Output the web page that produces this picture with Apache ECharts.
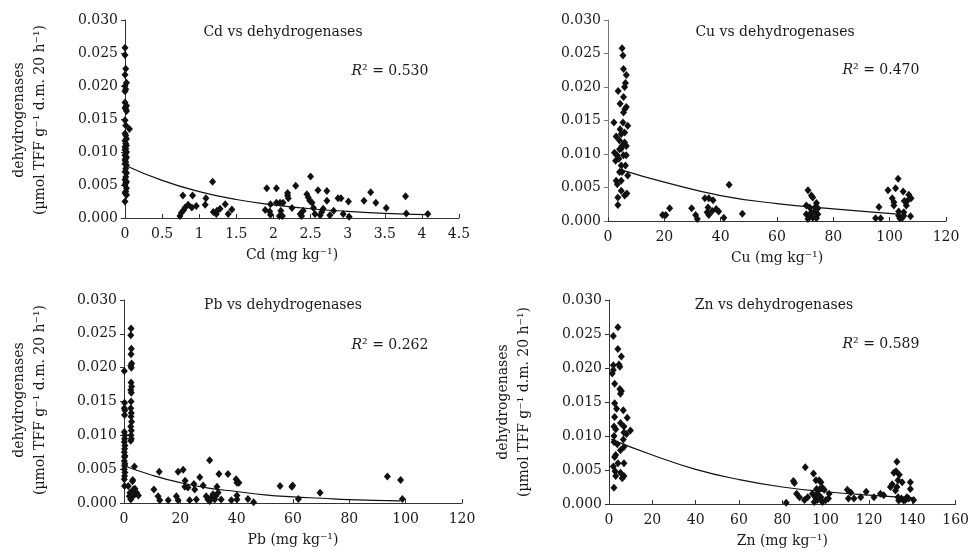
<!DOCTYPE html>
<html>
<head>
<meta charset="utf-8">
<script src="https://cdn.jsdelivr.net/npm/echarts@6/dist/echarts.min.js"></script>
<style>
html,body{margin:0;padding:0;background:#fff;}
#main{width:972px;height:553px;}
</style>
</head>
<body>
<div id="main"></div>
<script>
// ---------- Data ----------
// Cd vs dehydrogenases
const cdX = [0,0,0.01,0,0.02,0,0.01,0,0,0.02,0,0.01,0.02,0,0.01,0.06,0,0.01,0.02,0,0.01,0.02,0,0.01,0,0.02,0.01,0,0.02,0.01,0,0.01,0,0.02,0.01,0,0.02,0.01,0,0.02,0.01,0,0.02,0.01,0,0.02,0,
  0.78,0.74,0.76,0.79,0.81,0.85,0.90,0.91,0.96,1.09,1.08,1.18,1.19,1.23,1.28,1.35,1.39,1.44,1.24,
  1.91,2.04,1.89,1.95,1.96,1.96,2.04,2.09,2.13,2.08,2.12,2.10,2.19,2.19,2.20,2.25,2.30,2.36,2.38,2.40,2.45,2.47,2.49,2.52,2.50,2.54,2.56,2.60,2.63,2.65,2.67,2.72,2.72,2.76,2.81,2.87,2.91,2.94,3.01,3.02,3.22,3.31,3.38,3.52,3.78,3.79,4.08];
const cdY = [0.0258,0.0247,0.0226,0.0217,0.0205,0.0200,0.0195,0.0192,0.0175,0.0170,0.0167,0.0165,0.0162,0.0148,0.0140,0.0135,0.0128,0.0125,0.0120,0.0117,0.0113,0.0110,0.0108,0.0105,0.0103,0.0100,0.0098,0.0095,0.0092,0.0090,0.0088,0.0085,0.0082,0.0080,0.0075,0.0070,0.0068,0.0062,0.0058,0.0055,0.0053,0.0050,0.0045,0.0040,0.0038,0.0035,0.0025,
  0.0034,0.0003,0.0008,0.0012,0.0016,0.0020,0.0016,0.0034,0.0018,0.0030,0.0020,0.0055,0.0009,0.0006,0.0014,0.0021,0.0006,0.0013,0.0011,
  0.0045,0.0045,0.0012,0.0010,0.0021,0.0005,0.0023,0.0023,0.0023,0.0003,0.0003,0.0011,0.0038,0.0034,0.0030,0.0015,0.0049,0.0006,0.0003,0.0011,0.0036,0.0031,0.0026,0.0023,0.0063,0.0015,0.0006,0.0042,0.0004,0.0009,0.0014,0.0041,0.0026,0.0004,0.0011,0.0030,0.0030,0.0006,0.0025,0.0002,0.0026,0.0039,0.0023,0.0015,0.0033,0.0007,0.0006];
const cdTrendX = [0,0.5,1,1.5,2,2.5,3,3.5,4.05];
const cdTrendY = [0.0080,0.0057,0.0040,0.0028,0.0020,0.0014,0.0010,0.0007,0.0005];

// Cu vs dehydrogenases
const cuX = [2.1,2.3,2.7,2.9,2.9,3.3,3.5,3.5,3.6,4.1,4.3,4.7,4.7,5.0,5.3,5.5,5.9,6.5,6.2,5.5,6.0,5.5,6.5,5.3,7.0,5.9,4.7,5.0,4.1,5.5,6.5,3.9,4.7,6.2,7.0,5.0,4.1,5.9,6.7,4.7,5.9,3.2,6.5,4.3,
  19.4,20.5,21.9,29.7,31.1,31.7,34.4,35.8,37.3,35.5,35.2,35.8,37.0,38.4,39.3,41.1,43.0,47.7,
  71.0,72.2,72.7,70.4,71.6,73.4,74.0,74.5,70.4,71.6,72.2,72.7,74.0,71.0,74.5,73.4,
  95.0,96.2,96.8,99.4,102.1,100.9,101.5,101.5,103.0,103.2,103.2,103.6,104.8,105.2,106.2,105.9,105.0,105.0,106.8,107.6,107.4,104.5];
const cuY = [0.0147,0.0102,0.0090,0.0126,0.0060,0.0055,0.0035,0.0024,0.0194,0.0120,0.0175,0.0060,0.0045,0.0258,0.0247,0.0227,0.0200,0.0218,0.0206,0.0185,0.0167,0.0162,0.0170,0.0147,0.0142,0.0132,0.0130,0.0112,0.0107,0.0098,0.0098,0.0093,0.0083,0.0083,0.0068,0.0073,0.0073,0.0038,0.0041,0.0108,0.0117,0.0098,0.0112,0.0137,
  0.0009,0.0009,0.0019,0.0019,0.0009,0.0003,0.0034,0.0034,0.0031,0.0020,0.0013,0.0009,0.0015,0.0018,0.0014,0.0005,0.0054,0.0011,
  0.0046,0.0038,0.0035,0.0023,0.0020,0.0020,0.0027,0.0019,0.0010,0.0008,0.0013,0.0005,0.0004,0.0003,0.0010,0.0013,
  0.0004,0.0021,0.0004,0.0046,0.0049,0.0034,0.0028,0.0023,0.0063,0.0014,0.0008,0.0004,0.0044,0.0030,0.0030,0.0023,0.0013,0.0008,0.0039,0.0034,0.0007,0.0005];
const cuTrendX = [5,20,40,60,80,104];
const cuTrendY = [0.0076,0.0058,0.0038,0.0026,0.0018,0.0010];

// Pb vs dehydrogenases
const pbX = [0.1,0.2,0.1,0.3,0.2,0.1,0.3,0.2,0.1,0.3,0.2,0.1,0.3,0.2,0.1,0.3,0.2,0.1,0.3,0.2,0.1,0.2,
  2.5,2.4,2.6,2.5,2.7,2.4,2.6,2.5,2.7,2.4,2.6,2.5,2.4,2.6,2.5,2.7,2.4,2.6,2.5,2.6,2.4,3.7,3.1,3.0,
  1.5,2.1,2.7,3.3,3.9,3.9,4.5,5.1,2.4,1.9,
  10.6,12.5,12.1,12.7,15.7,19.2,21.0,18.6,19.2,21.7,21.6,22.7,23.3,24.8,25.1,25.7,26.9,28.1,29.2,29.8,30.4,30.4,31.0,31.6,32.2,33.0,33.4,33.7,32.5,34.5,36.9,38.1,39.8,40.1,40.8,40.1,40.1,44.0,46.0,55.4,59.6,59.9,61.9,69.6,93.5,98.2,98.8];
const pbY = [0.0195,0.0148,0.0140,0.0137,0.0130,0.0105,0.0100,0.0095,0.0090,0.0085,0.0080,0.0075,0.0070,0.0068,0.0062,0.0058,0.0055,0.0050,0.0045,0.0040,0.0035,0.0025,
  0.0258,0.0248,0.0228,0.0220,0.0206,0.0203,0.0200,0.0178,0.0172,0.0167,0.0163,0.0150,0.0140,0.0133,0.0128,0.0120,0.0113,0.0107,0.0100,0.0095,0.0092,0.0054,0.0034,0.0032,
  0.0025,0.0015,0.0008,0.0020,0.0013,0.0021,0.0015,0.0011,0.0005,0.0010,
  0.0020,0.0046,0.0010,0.0004,0.0004,0.0046,0.0049,0.0010,0.0004,0.0033,0.0024,0.0023,0.0004,0.0028,0.0020,0.0005,0.0038,0.0026,0.0010,0.0005,0.0063,0.0003,0.0008,0.0013,0.0005,0.0024,0.0015,0.0043,0.0010,0.0005,0.0043,0.0004,0.0035,0.0030,0.0030,0.0011,0.0005,0.0006,0.0001,0.0025,0.0024,0.0026,0.0006,0.0015,0.0039,0.0034,0.0006];
const pbTrendX = [0,10,20,30,40,50,60,70,80,98];
const pbTrendY = [0.0055,0.0041,0.0030,0.0022,0.0017,0.0012,0.0009,0.0007,0.0005,0.0003];

// Zn vs dehydrogenases
const znX = [2.0,4.1,4.1,4.6,5.0,5.7,2.0,1.5,2.0,2.6,5.0,5.7,5.3,2.6,3.5,6.6,2.6,8.4,5.3,2.3,3.1,6.9,9.9,6.9,8.1,2.3,6.6,2.3,6.9,3.1,2.6,4.1,6.9,2.0,2.8,5.3,3.1,6.1,6.9,2.3,3.8,5.3,
  81.8,85.1,85.6,86.6,87.9,90.2,90.6,91.7,94.4,95.5,97.0,97.8,95.8,97.3,98.5,99.3,93.9,95.2,96.2,96.2,97.8,98.5,100.1,101.3,101.6,94.7,
  110.0,111.6,110.5,113.1,116.2,118.7,122.3,125.3,126.8,129.9,130.7,131.5,132.5,132.9,133.4,134.0,132.2,133.4,133.7,135.0,135.3,136.0,136.8,138.3,139.1,139.1,140.6,132.9,137.5];
const znY = [0.0247,0.0260,0.0228,0.0205,0.0202,0.0217,0.0204,0.0192,0.0197,0.0177,0.0169,0.0166,0.0162,0.0148,0.0140,0.0138,0.0128,0.0127,0.0119,0.0114,0.0110,0.0114,0.0108,0.0105,0.0103,0.0100,0.0095,0.0091,0.0084,0.0072,0.0069,0.0060,0.0060,0.0055,0.0048,0.0046,0.0041,0.0038,0.0041,0.0024,0.0088,0.0079,
  0.0002,0.0034,0.0031,0.0015,0.0010,0.0006,0.0054,0.0010,0.0045,0.0035,0.0035,0.0032,0.0022,0.0022,0.0024,0.0021,0.0015,0.0010,0.0015,0.0006,0.0010,0.0003,0.0006,0.0008,0.0015,0.0003,
  0.0021,0.0017,0.0008,0.0008,0.0010,0.0018,0.0010,0.0015,0.0013,0.0025,0.0029,0.0046,0.0048,0.0062,0.0035,0.0043,0.0020,0.0010,0.0005,0.0008,0.0032,0.0005,0.0006,0.0008,0.0032,0.0022,0.0006,0.0025,0.0010];
const znTrendX = [1,20,40,60,80,100,120,141];
const znTrendY = [0.0095,0.0072,0.0051,0.0036,0.0025,0.0018,0.0013,0.0009];

// Panel texts and axis ticks
const panelTitles = ['Cd vs dehydrogenases','Cu vs dehydrogenases','Pb vs dehydrogenases','Zn vs dehydrogenases'];
const rSquared = ['0.530','0.470','0.262','0.589'];
const xNames = ['Cd','Cu','Pb','Zn'];
const xMax = [4.5,120,120,160];
const xInterval = [0.5,20,20,20];
const yMax = 0.030, yInterval = 0.005;

// ---------- Chart ----------
const FONT = 'DejaVu Serif';
const TXT = '#1a1a1a';
const grids = [
  {left:125, top:20, width:334, height:198},
  {left:608, top:20, width:338, height:201},
  {left:124, top:300, width:338, height:203},
  {left:609, top:300, width:348, height:204}
];
function zip(a,b){ return a.map((v,i)=>[v,b[i]]); }
const scatters = [zip(cdX,cdY), zip(cuX,cuY), zip(pbX,pbY), zip(znX,znY)];
const trends = [zip(cdTrendX,cdTrendY), zip(cuTrendX,cuTrendY), zip(pbTrendX,pbTrendY), zip(znTrendX,znTrendY)];

const xAxes = [], yAxes = [], series = [];
for (let i=0;i<4;i++){
  xAxes.push({
    type:'value', gridIndex:i, min:0, max:xMax[i], interval:xInterval[i],
    axisLine:{show:true, onZero:false, lineStyle:{color:'#333', width:1}},
    axisTick:{show:true, inside:true, length:4, lineStyle:{color:'#333'}},
    axisLabel:{fontFamily:FONT, fontSize:14, color:TXT, margin:9},
    splitLine:{show:false},
    name: xNames[i] + ' (mg kg\u207B\u00B9)',
    nameLocation:'middle', nameGap:30,
    nameTextStyle:{fontFamily:FONT, fontSize:14, color:TXT}
  });
  yAxes.push({
    type:'value', gridIndex:i, min:0, max:yMax, interval:yInterval,
    axisLine:{show:true, onZero:false, lineStyle:{color: i===1 ? '#777' : '#333', width:1}},
    axisTick:{show:true, inside:false, length:4, lineStyle:{color: i===1 ? '#777' : '#333'}},
    axisLabel:{fontFamily:FONT, fontSize:14, color:TXT, margin:7, formatter:v=>v.toFixed(3)},
    splitLine:{show:false}
  });
  series.push({
    type:'scatter', xAxisIndex:i, yAxisIndex:i, data:scatters[i],
    symbol:'diamond', symbolSize:[7,8], itemStyle:{color:'#111', opacity:1}, z:3
  });
  series.push({
    type:'line', xAxisIndex:i, yAxisIndex:i, data:trends[i], smooth:true,
    showSymbol:false, symbol:'none', lineStyle:{color:'#111', width:1.2}, z:2
  });
}

const titlePos = [[283,32],[775,32],[283,305],[774,305]];
const rPos = [[390,71],[881,70],[390,345],[881,344]];
const graphics = [];
for (let i=0;i<4;i++){
  graphics.push({type:'text', x:titlePos[i][0], y:titlePos[i][1], z:10,
    style:{text:panelTitles[i], fontFamily:FONT, fontSize:14, fill:TXT, align:'center', verticalAlign:'middle'}});
  graphics.push({type:'text', x:rPos[i][0], y:rPos[i][1], z:10,
    style:{text:'{i|R}{n|\u00B2 = ' + rSquared[i] + '}', align:'center', verticalAlign:'middle',
      rich:{i:{fontFamily:FONT, fontSize:14, fontStyle:'italic', fill:TXT, color:TXT},
            n:{fontFamily:FONT, fontSize:14, fill:TXT, color:TXT}}}});
}
// y-axis names (rotated) for Cd, Pb, Zn panels
const yNamePanels = [[19,40,120],[19,40,400],[503,524,402]];
yNamePanels.forEach(p=>{
  graphics.push({type:'text', x:p[0], y:p[2], rotation:Math.PI/2, z:10,
    style:{text:'dehydrogenases', fontFamily:FONT, fontSize:14, fill:TXT, align:'center', verticalAlign:'middle'}});
  graphics.push({type:'text', x:p[1], y:p[2], rotation:Math.PI/2, z:10,
    style:{text:'(\u00B5mol TFF g\u207B\u00B9 d.m. 20 h\u207B\u00B9)', fontFamily:FONT, fontSize:14, fill:TXT, align:'center', verticalAlign:'middle'}});
});

const chart = echarts.init(document.getElementById('main'), null, {renderer:'canvas'});
chart.setOption({
  animation:false,
  backgroundColor:'#fff',
  grid:grids,
  xAxis:xAxes,
  yAxis:yAxes,
  series:series,
  graphic:graphics
});
</script>
</body>
</html>
